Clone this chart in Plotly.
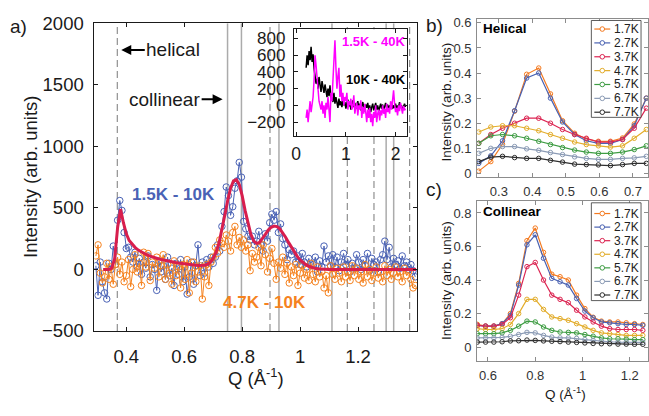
import numpy as np
import plotly.graph_objects as go

W, H = 649, 416
def X(px): return px / W
def Y(py): return 1 - py / H

FONT = "Liberation Sans, Arial, Helvetica, sans-serif"
INK = "#1a1a1a"

# ---------------- panel a (main) ----------------
q_main = np.round(0.295 + 0.0075 * np.arange(148), 4)
blue_1p5K_minus_10K = [
    30, -210, 60, -100, -190, -240, 50, 0, 190, 40,
    400, 560, 480, 300, 170, 180, 100, 60, 140, 20,
    90, -40, 60, 10, 110, -60, 40, 0, -170, 70,
    -20, 30, -80, 100, -50, 10, -130, 50, -40, 80,
    -100, 20, -200, -60, 60, -120, 30, 200, -50, 60,
    -30, 80, 20, 100, 50, 100, 200, 150, 350, 470,
    670, 600, 440, 510, 660, 720, 870, 750, 390, 330,
    270, 240, 270, 200, 230, 310, 200, 150, 290, 230,
    380, 450, 400, 470, 300, 370, 250, 200, 80, 160,
    120, 150, 60, 110, 40, 130, 60, 20, 90, 30,
    40, 100, -20, 70, 20, 190, 60, 110, 30, 120,
    20, 100, -10, 60, 130, 40, 80, -20, 50, 10,
    120, 60, 0, 80, 30, 130, -10, 90, 40, 60,
    -20, 80, 120, 230, 80, 180, 20, 90, 40, 70,
    10, 110, 30, 60, 0, 40, -10, -60,
]
orange_4p7K_minus_10K = [
    110, 200, -30, -110, -60, 50, -80, 20, -120, 40,
    100, -40, 60, -100, -50, 80, -140, 0, 120, -20,
    50, -130, 140, 20, 130, -90, 60, 10, 100, -60,
    30, 120, -80, 40, -30, -120, 70, -50, 20, -150,
    40, -80, 80, -190, -30, 60, -100, -20, 30, -240,
    -60, 40, -130, 60, 100, 180, 130, 240, 210, 180,
    280, 230, 150, 300, 350, 200, 260, 180, 240, 150,
    200, -10, 130, 60, 100, 180, 30, 200, 120, -20,
    90, 170, 50, -80, 60, 10, 100, -40, 50, -110,
    20, -50, 40, -130, -30, 30, -70, 0, -90, 50,
    -40, -100, 20, -60, -20, -150, -50, -190, 30, -40,
    -80, 10, -30, -100, 20, -60, -20, -90, 30, -50,
    10, -80, -20, -110, 40, -60, 0, -90, -30, 20,
    -70, -20, -100, 30, -50, 0, -80, -30, 20, -60,
    -20, -100, 10, -50, -20, -80, -150, -130,
]
q_fit = np.round(np.arange(0.32, 1.4001, 0.01), 2)
fit_1p5K = [
    0, 0, 0, 10, 90, 340, 490, 380, 290, 235,
    205, 180, 160, 145, 132, 120, 110, 101, 94, 87,
    81, 75, 70, 65, 60, 56, 52, 48, 45, 42,
    39, 36, 34, 33, 33, 35, 42, 58, 90, 140,
    215, 320, 440, 560, 660, 720, 730, 690, 600, 480,
    370, 285, 230, 212, 220, 248, 285, 320, 343, 352,
    348, 330, 300, 262, 220, 178, 140, 106, 78, 56,
    39, 26, 17, 10, 6, 3, 1,
    0, 0, 0, 0, 0, 0, 0, 0, 0, 0, 0, 0, 0, 0, 0, 0,
    0, 0, 0, 0, 0, 0, 0, 0, 0, 0, 0, 0, 0, 0, 0, 0,
]
bragg_solid = [0.7495, 0.7975, 0.927, 1.110, 1.297, 1.323]
bragg_dashed = [0.369, 0.896, 1.163, 1.255, 1.378]

# ---------------- inset ----------------
q_inset = np.round(np.arange(0.20, 2.2001, 0.02), 2)
magenta_1p5K_minus_40K = [
    -150, -50, -200, -100, 50, -80, 0, 100, 300, 600,
    480, 300, 200, 50, 0, -50, 50, -100, 0, -150,
    30, -50, 100, -100, -200, 150, 50, 300, 600, 780,
    450, 200, 350, 450, 100, 250, 50, 150, 0, 100,
    50, 150, -50, 50, 0, 80, -50, 0, 120, -100,
    -20, 30, -120, 0, -50, 60, -150, -20, -100, 20,
    -80, -200, -50, -150, -30, -200, -100, -250, -80, -150,
    0, -200, -100, -50, -180, -60, -120, 0, -100, -40,
    -150, 20, -80, -30, -100, 50, -50, 100, 180, 20,
    -80, -30, -120, 0, -70, 30, -50, -100, 0, -60,
    -40,
]
black_10K_minus_40K = [
    450, 600, 480, 650, 540, 700, 520, 610, 440, 360,
    260, 320, 200, 340, 250, 160, 290, 190, 150, 250,
    140, 100, 200, 110, 240, 80, 100, 40, 150, 20,
    100, 50, -30, 80, 0, 50, -20, 60, 0, 40,
    -40, 30, 70, -10, 40, -50, 20, 60, -20, 30,
    -40, 10, 50, -30, 20, -60, 0, 40, -20, -70,
    10, -30, 30, -50, 0, -80, -20, 20, -60, -10,
    30, -50, 0, -70, -20, 20, -40, 10, -60, -10,
    30, -30, 10, -50, 0, -20, 30, -40, 0, -30,
    20, -50, 0, -20, 40, -30, 0, -60, -10, 20,
    -20,
]

# ---------------- panels b, c ----------------
temps = ["1.7K", "2.7K", "3.7K", "4.7K", "5.7K", "6.7K", "7.7K"]
temp_colors = ["#f47a20", "#4a62b2", "#dc2552", "#e3ad2c", "#3f9d44", "#8b9bb5", "#303030"]

q_hel = [0.240, 0.276, 0.311, 0.347, 0.383, 0.419, 0.454, 0.490,
         0.526, 0.561, 0.597, 0.633, 0.669, 0.704, 0.740]
helical = [
    [0.009, 0.047, 0.116, 0.248, 0.395, 0.42, 0.317, 0.21, 0.16, 0.137, 0.128, 0.128, 0.141, 0.197, 0.30],
    [0.04, 0.07, 0.13, 0.25, 0.38, 0.40, 0.30, 0.205, 0.155, 0.13, 0.12, 0.12, 0.135, 0.19, 0.30],
    [0.12, 0.155, 0.18, 0.20, 0.22, 0.22, 0.20, 0.175, 0.155, 0.14, 0.125, 0.125, 0.135, 0.18, 0.26],
    [0.165, 0.185, 0.19, 0.19, 0.18, 0.17, 0.155, 0.14, 0.125, 0.115, 0.11, 0.105, 0.11, 0.14, 0.175],
    [0.12, 0.15, 0.155, 0.15, 0.14, 0.128, 0.115, 0.103, 0.093, 0.085, 0.08, 0.08, 0.085, 0.095, 0.11],
    [0.08, 0.10, 0.107, 0.107, 0.098, 0.092, 0.083, 0.075, 0.066, 0.06, 0.056, 0.056, 0.06, 0.062, 0.068],
    [0.047, 0.065, 0.068, 0.063, 0.06, 0.06, 0.052, 0.045, 0.037, 0.035, 0.034, 0.031, 0.035, 0.04, 0.04],
]
q_col = np.round(np.arange(0.555, 1.2551, 0.035), 3)
collinear = [
    [0.136, 0.126, 0.126, 0.14, 0.2, 0.38, 0.635, 0.71, 0.565, 0.435, 0.42, 0.40, 0.31, 0.23, 0.178, 0.155, 0.15, 0.15, 0.145, 0.14, 0.135],
    [0.13, 0.125, 0.125, 0.14, 0.19, 0.37, 0.61, 0.67, 0.53, 0.41, 0.39, 0.37, 0.29, 0.215, 0.175, 0.15, 0.145, 0.14, 0.135, 0.135, 0.13],
    [0.13, 0.125, 0.125, 0.135, 0.175, 0.31, 0.48, 0.505, 0.40, 0.31, 0.285, 0.265, 0.22, 0.18, 0.15, 0.125, 0.11, 0.105, 0.105, 0.105, 0.10],
    [0.11, 0.105, 0.105, 0.11, 0.135, 0.20, 0.285, 0.285, 0.225, 0.18, 0.17, 0.16, 0.14, 0.12, 0.10, 0.085, 0.08, 0.075, 0.07, 0.07, 0.07],
    [0.08, 0.08, 0.08, 0.085, 0.10, 0.125, 0.155, 0.15, 0.12, 0.10, 0.09, 0.088, 0.085, 0.075, 0.065, 0.055, 0.05, 0.05, 0.048, 0.045, 0.045],
    [0.055, 0.055, 0.055, 0.058, 0.065, 0.075, 0.088, 0.085, 0.07, 0.06, 0.055, 0.055, 0.052, 0.045, 0.04, 0.035, 0.032, 0.03, 0.03, 0.028, 0.028],
    [0.03, 0.03, 0.03, 0.032, 0.037, 0.038, 0.042, 0.04, 0.037, 0.035, 0.033, 0.03, 0.028, 0.025, 0.022, 0.02, 0.02, 0.018, 0.018, 0.017, 0.017],
]

BLUE = "#4a62b5"
ORANGE = "#f5821f"
RED = "#d81e4d"
MAGENTA = "#ff00ff"

fig = go.Figure()

# main traces
fig.add_trace(go.Scatter(x=q_main, y=blue_1p5K_minus_10K, mode="lines+markers",
                         line=dict(color=BLUE, width=1),
                         marker=dict(symbol="circle-open", size=6.5, color=BLUE, line=dict(width=1)),
                         xaxis="x", yaxis="y", showlegend=False))
fig.add_trace(go.Scatter(x=q_main, y=orange_4p7K_minus_10K, mode="lines+markers",
                         line=dict(color=ORANGE, width=1),
                         marker=dict(symbol="circle-open", size=6.5, color=ORANGE, line=dict(width=1)),
                         xaxis="x", yaxis="y", showlegend=False))
fig.add_trace(go.Scatter(x=q_fit, y=fit_1p5K, mode="lines", line=dict(color=RED, width=3),
                         xaxis="x", yaxis="y", showlegend=False))

# inset traces
fig.add_trace(go.Scatter(x=q_inset, y=black_10K_minus_40K, mode="lines",
                         line=dict(color="black", width=1.5), xaxis="x2", yaxis="y2", showlegend=False))
fig.add_trace(go.Scatter(x=q_inset, y=magenta_1p5K_minus_40K, mode="lines",
                         line=dict(color=MAGENTA, width=1.5), xaxis="x2", yaxis="y2", showlegend=False))

# panels b, c
for name, col, yv in zip(temps, temp_colors, helical):
    fig.add_trace(go.Scatter(x=q_hel, y=yv, mode="lines+markers", name=name,
                             line=dict(color=col, width=1.2),
                             marker=dict(symbol="circle-open", size=4.5, color=col, line=dict(width=1)),
                             xaxis="x3", yaxis="y3", showlegend=False))
for name, col, yv in zip(temps, temp_colors, collinear):
    fig.add_trace(go.Scatter(x=q_col, y=yv, mode="lines+markers", name=name,
                             line=dict(color=col, width=1.2),
                             marker=dict(symbol="circle-open", size=4.5, color=col, line=dict(width=1)),
                             xaxis="x4", yaxis="y4", showlegend=False))

shapes = []
for q in bragg_solid:
    shapes.append(dict(type="line", xref="x", yref="y", x0=q, x1=q, y0=-500, y1=2000,
                       line=dict(color="#ababab", width=1.5), layer="below"))
for q in bragg_dashed:
    shapes.append(dict(type="line", xref="x", yref="y", x0=q, x1=q, y0=-500, y1=2000,
                       line=dict(color="#8f8f8f", width=1.2, dash="7px,4px"), layer="below"))

annotations = []
def ann(text, x, y, size, color=INK, bold=False, xanchor="center", angle=0):
    t = f"<b>{text}</b>" if bold else text
    annotations.append(dict(text=t, x=X(x), y=Y(y), xref="paper", yref="paper",
                            showarrow=False, xanchor=xanchor, yanchor="middle",
                            textangle=angle, font=dict(family=FONT, size=size, color=color)))

# manual legends for b and c
def add_legend(box, y_first, y_step):
    x0, x1, y0, y1 = box
    shapes.append(dict(type="rect", xref="paper", yref="paper", x0=X(x0), x1=X(x1), y0=Y(y1), y1=Y(y0),
                       line=dict(color="#333333", width=0.8), fillcolor="white", layer="above"))
    for i, (name, col) in enumerate(zip(temps, temp_colors)):
        yy = y_first + i * y_step
        shapes.append(dict(type="line", xref="paper", yref="paper", x0=X(595), x1=X(611),
                           y0=Y(yy), y1=Y(yy), line=dict(color=col, width=1.2), layer="above"))
        shapes.append(dict(type="circle", xref="paper", yref="paper", xsizemode="pixel", ysizemode="pixel",
                           xanchor=X(603), yanchor=Y(yy), x0=-2.3, x1=2.3, y0=-2.3, y1=2.3,
                           line=dict(color=col, width=1), fillcolor="white", layer="above"))
        ann(name, 613, yy, 12, color="#222222", xanchor="left")

add_legend((592, 642, 10, 112), 19, 14.6)
add_legend((592, 642, 202, 305), 213.3, 14.3)

# panel labels and texts
ann("a)", 16, 16, 19)
ann("b)", 434, 15, 19)
ann("c)", 434, 188, 19)
ann("Intensity (arb. units)", 27, 175, 18.5, angle=-90)
ann("Q (Å<sup>-1</sup>)", 254.5, 385, 18.5)
ann("Intensity (arb. units)", 446, 96, 13.5, angle=-90)
ann("Intensity (arb. units)", 446, 284, 13.5, angle=-90)
ann("Q (Å<sup>-1</sup>)", 566, 402, 13.5)
ann("1.5K - 10K", 172, 193, 17, color=BLUE, bold=True)
ann("4.7K - 10K", 263, 307, 17, color=ORANGE, bold=True)
ann("1.5K - 40K", 373, 32, 13, color=MAGENTA, bold=True)
ann("10K - 40K", 375, 72, 13, color="black", bold=True)
ann("Helical", 481, 18, 13.5, color="black", bold=True, xanchor="left")
ann("Collinear", 481, 211, 13.5, color="black", bold=True, xanchor="left")

# arrow annotations
annotations.append(dict(text="helical", x=X(119), y=Y(41), xref="paper", yref="paper",
                        showarrow=True, ax=52, ay=0, axref="pixel", ayref="pixel",
                        arrowhead=2, arrowsize=1, arrowwidth=2, arrowcolor="black", standoff=0,
                        xanchor="center", font=dict(family=FONT, size=19, color=INK)))
annotations.append(dict(text="collinear", x=X(221), y=Y(93), xref="paper", yref="paper",
                        showarrow=True, ax=-58, ay=0, axref="pixel", ayref="pixel",
                        arrowhead=2, arrowsize=1, arrowwidth=2, arrowcolor="black", standoff=0,
                        xanchor="center", font=dict(family=FONT, size=19, color=INK)))

def ax_style(size, color, linecolor, standoff):
    return dict(showline=True, linecolor=linecolor, linewidth=1, mirror="ticks", ticks="inside",
                ticklen=4, tickcolor=linecolor, showgrid=False, zeroline=False,
                tickfont=dict(family=FONT, size=size, color=color), ticklabelstandoff=standoff)

GRAY = "#8c8c8c"
fig.update_layout(
    width=W, height=H, margin=dict(l=0, r=0, t=0, b=0),
    paper_bgcolor="white", plot_bgcolor="white",
    xaxis=dict(domain=[X(92), X(417)], range=[0.29, 1.405], anchor="y",
               tickvals=[0.4, 0.6, 0.8, 1.0, 1.2], ticktext=["0.4", "0.6", "0.8", "1", "1.2"],
               **ax_style(18.5, INK, INK, 9)),
    yaxis=dict(domain=[Y(337), Y(13)], range=[-500, 2000], anchor="x",
               tickvals=[-500, 0, 500, 1000, 1500, 2000], **ax_style(18.5, INK, INK, 6)),
    xaxis2=dict(domain=[X(292.7), X(406.7)], range=[-0.046, 2.234], anchor="y2",
                tickvals=[0, 1, 2], **ax_style(17.5, INK, INK, 2)),
    yaxis2=dict(domain=[Y(131.7), Y(19.3)], range=[-367, 910], anchor="x2",
                tickvals=[-200, 0, 200, 400, 600, 800], **ax_style(17, INK, INK, 4)),
    xaxis3=dict(domain=[X(477), 1.0], range=[0.235, 0.745], anchor="y3",
                tickvals=[0.3, 0.4, 0.5, 0.6, 0.7], **ax_style(13, "#333333", GRAY, 2)),
    yaxis3=dict(domain=[Y(175), Y(8)], range=[-0.015, 0.617], anchor="x3",
                tickvals=[0, 0.1, 0.2, 0.3, 0.4, 0.5, 0.6], ticktext=["0", "0.1", "0.2", "0.3", "0.4", "0.5", "0.6"],
                **ax_style(13, "#333333", GRAY, 2)),
    xaxis4=dict(domain=[X(477), 1.0], range=[0.554, 1.277], anchor="y4",
                tickvals=[0.6, 0.8, 1.0, 1.2], ticktext=["0.6", "0.8", "1", "1.2"],
                **ax_style(13, "#333333", GRAY, 2)),
    yaxis4=dict(domain=[Y(369), Y(200)], range=[-0.085, 0.872], anchor="x4",
                tickvals=[0, 0.2, 0.4, 0.6, 0.8], ticktext=["0", "0.2", "0.4", "0.6", "0.8"],
                **ax_style(13, "#333333", GRAY, 2)),
    shapes=shapes, annotations=annotations, showlegend=False,
)

fig.write_html("out.html")
